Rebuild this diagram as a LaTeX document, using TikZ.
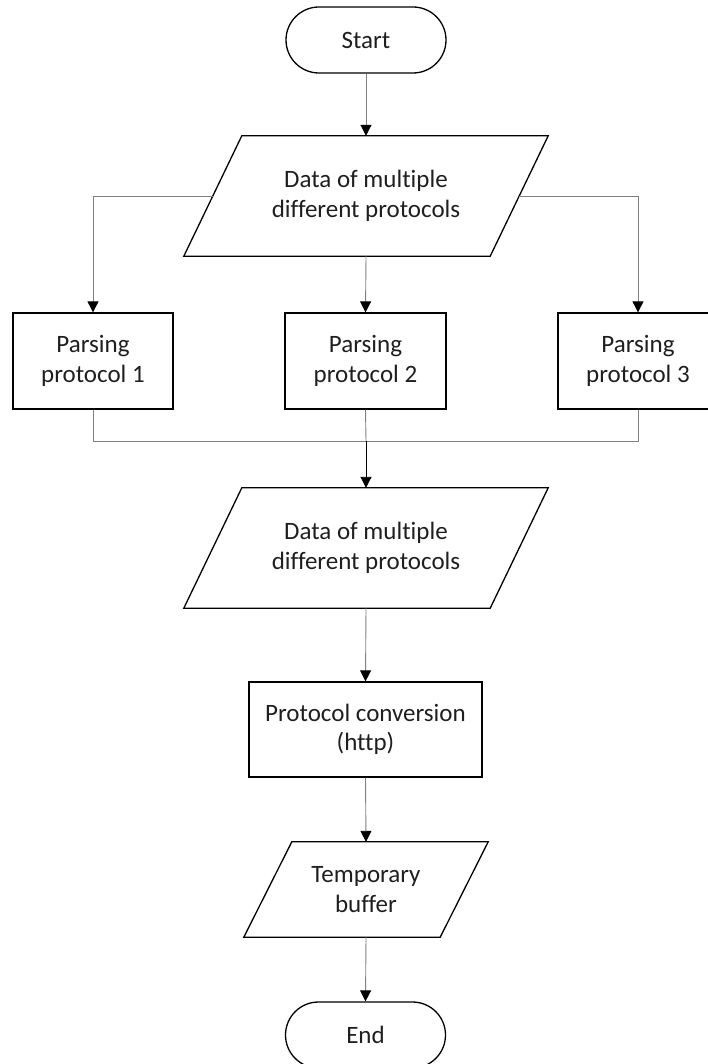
\documentclass[tikz,border=0pt]{standalone}
\usepackage{fontspec}
\setmainfont{Carlito}[Ligatures={NoCommon}]
\usetikzlibrary{arrows.meta,calc}
\definecolor{conn}{RGB}{128,128,128}
\tikzset{
  shapeline/.style={draw=black, line width=1.3pt},
  txt/.style={font=\fontsize{25}{29.5}\selectfont, align=center, inner sep=0pt, text=black!88},
  term/.style={txt, shapeline, rounded corners=33pt, minimum width=160pt, minimum height=66pt},
  procbox/.style={txt, shapeline, minimum height=96pt},
  iobox/.style={txt, minimum height=#1},
  conn/.style={draw=conn, line width=0.9pt},
  arr/.style={conn, -{Triangle[length=11pt,width=11pt,color=black]}},
  arrk/.style={draw=black, line width=0.9pt, -{Triangle[length=11pt,width=11pt,color=black]}}
}
\begin{document}
\begin{tikzpicture}[x=1pt,y=-1pt]
\useasboundingbox (0,0) rectangle (708,1064);
\clip (0,0) rectangle (708,1064);
% nodes
\node[term] (start) at (366,40) {Start};
\node[iobox=120pt, minimum width=306pt] (d1) at (366,196) {Data of multiple\\different protocols};
\node[procbox, minimum width=160pt] (p1) at (93,361) {Parsing\\protocol 1};
\node[procbox, minimum width=161pt] (p2) at (365.5,361) {Parsing\\protocol 2};
\node[procbox, minimum width=160pt] (p3) at (638,361) {Parsing\\protocol 3};
\node[iobox=120pt, minimum width=306pt] (d2) at (366,548) {Data of multiple\\different protocols};
\node[procbox, minimum width=233pt, minimum height=95pt] (pc) at (365.5,729.5) {Protocol conversion\\(http)};
\node[iobox=95pt, minimum width=196pt] (tb) at (366,889.5) {Temporary\\buffer};
\node[term] (end) at (365.5,1035) {End};
% parallelograms
\draw[shapeline] ($(d1.north west)+(29,0)$) -- ($(d1.north east)+(29,0)$) -- ($(d1.south east)+(-29,0)$) -- ($(d1.south west)+(-29,0)$) -- cycle;
\draw[shapeline] ($(d2.north west)+(29,0)$) -- ($(d2.north east)+(29,0)$) -- ($(d2.south east)+(-29,0)$) -- ($(d2.south west)+(-29,0)$) -- cycle;
\draw[shapeline] ($(tb.north west)+(24,0)$) -- ($(tb.north east)+(24,0)$) -- ($(tb.south east)+(-24,0)$) -- ($(tb.south west)+(-24,0)$) -- cycle;
% connectors
\coordinate (m) at (366,441);
\draw[arr] (start.south) -- (d1.north);
\draw[arr] (d1.west) -| (p1.north);
\draw[arr] (d1.south) -- (p2.north);
\draw[arr] (d1.east) -| (p3.north);
\draw[conn] (p1.south) |- (m);
\draw[conn] (p3.south) |- (m);
\draw[conn] (p2.south) -- (m);
\draw[arrk] (m) -- (d2.north);
\draw[arr] (d2.south) -- (pc.north);
\draw[arr] (pc.south) -- (tb.north);
\draw[arr] (tb.south) -- (end.north);
\end{tikzpicture}
\end{document}
